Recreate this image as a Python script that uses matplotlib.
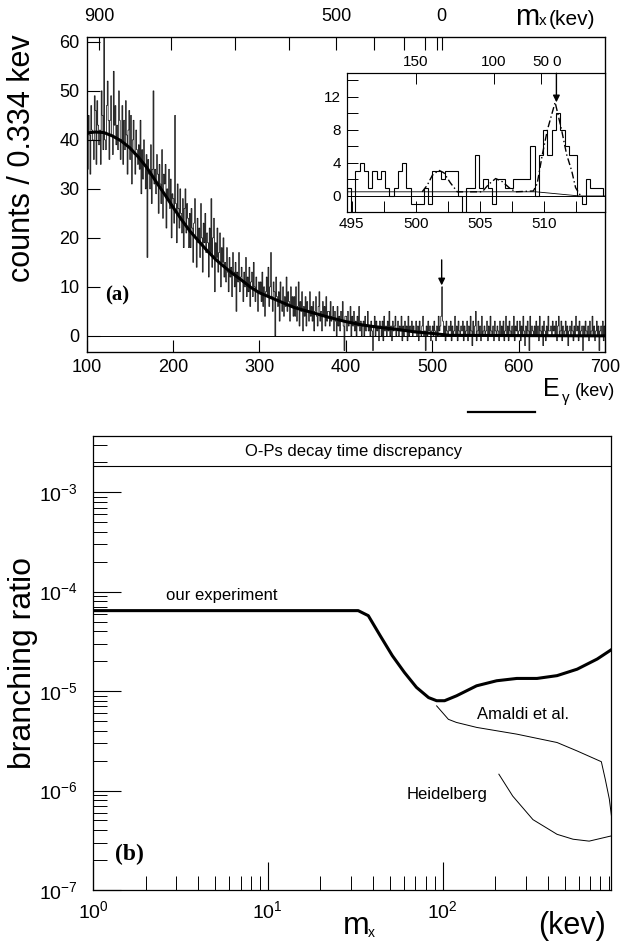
import numpy as np
import matplotlib
matplotlib.use('Agg')
import matplotlib.pyplot as plt
from matplotlib.ticker import LogLocator, NullFormatter, FixedLocator
from matplotlib.lines import Line2D

plt.rcParams['font.family'] = ['Liberation Sans', 'DejaVu Sans']
plt.rcParams['mathtext.fontset'] = 'custom'
plt.rcParams['mathtext.rm'] = 'Liberation Sans'
plt.rcParams['mathtext.it'] = 'Liberation Sans:italic'
plt.rcParams['mathtext.bf'] = 'Liberation Sans:bold'
plt.rcParams['axes.unicode_minus'] = False

# ---------------- data: panel (a) ----------------
spec_start = 100.0   # keV, left edge of first bin (bins shown 1 keV wide)
spec_bin = 1.0
spectrum_counts = [
    38, 34, 45, 41, 33, 47, 42, 40, 36, 49, 46, 35, 48, 43, 39, 42, 35, 50, 45, 38,
    61, 40, 38, 47, 52, 44, 36, 44, 49, 41, 37, 54, 43, 47, 39, 43, 38, 50, 44, 36,
    40, 47, 35, 44, 38, 48, 41, 33, 42, 46, 36, 45, 31, 40, 44, 37, 33, 42, 38, 35,
    39, 34, 44, 29, 38, 32, 40, 35, 30, 37, 16, 36, 33, 30, 39, 27, 34, 50, 31, 34,
    29, 37, 33, 25, 35, 31, 27, 38, 24, 33, 31, 35, 22, 30, 28, 34, 26, 32, 20, 29,
    28, 23, 45, 27, 19, 31, 26, 22, 30, 25, 21, 28, 18, 26, 30, 21, 27, 24, 18, 25,
    18, 26, 22, 15, 23, 28, 20, 14, 24, 19, 22, 16, 27, 20, 13, 23, 19, 25, 17, 21,
    19, 12, 22, 17, 28, 14, 20, 24, 9, 19, 16, 22, 13, 17, 21, 10, 18, 15, 20, 12,
    15, 11, 18, 13, 9, 16, 12, 14, 8, 17, 13, 10, 15, 5, 13, 11, 17, 9, 12, 14,
    11, 7, 13, 10, 16, 8, 12, 9, 14, 6, 11, 13, 8, 15, 10, 7, 12, 9, 5, 11,
    9, 11, 7, 13, 6, 10, 4, 9, 12, 8, 14, 6, 10, 17, 8, 5, 11, 9, 0, 12,
    8, 6, 9, 3, 11, 7, 5, 10, 4, 8, 6, 12, 5, 9, 7, 3, 10, 6, 8, 4,
    8, 4, 10, 3, 6, 11, 2, 7, 5, 9, 1, 6, 4, 8, 2, 7, 5, 3, 9, 4,
    6, 3, 7, 1, 5, 8, 4, 2, 6, 9, 3, 5, 1, 7, 4, 6, 2, 8, 3, 5,
    5, 2, 7, 3, 4, 6, 1, 5, 3, 0, 6, 2, 4, 1, 5, 3, 7, 2, -3, 4,
    4, 1, 5, 2, 3, 6, 0, 4, 2, 5, 1, 3, 0, 4, 2, 6, 1, 3, 0, 2,
    3, 0, 4, 1, 2, 5, 1, 2, 0, 3, 1, -3, 2, 4, 0, 3, 1, 2, -1, 3,
    2, 0, 3, -1, 4, 1, 2, 0, 3, 1, 5, 0, 2, -1, 3, 1, 2, 4, 0, 1,
    3, 0, 2, 1, 4, -1, 2, 0, 3, 1, 2, -1, 4, 0, 2, 1, 3, 0, 2, 1,
    1, 3, 0, 2, -1, 3, 1, 0, 2, 4, 0, 1, -3, 2, 0, 3, 1, 2, -1, 1,
    2, 0, 3, 1, -1, 2, 0, 4, 1, 2, 4, 10, 3, 0, 2, -1, 3, 1, 0, 2,
    1, 3, -1, 2, 0, 1, 4, 0, 2, -1, 3, 1, 0, 2, 1, 3, -1, 2, 0, 1,
    3, -1, 2, 0, 4, 1, -2, 3, 0, 2, 5, -1, 1, 3, 0, 2, -1, 4, 0, 1,
    2, 0, 1, 3, -1, 2, 0, 4, 1, 0, 2, -1, 3, 1, 0, 2, 1, -1, 3, 0,
    2, 0, 3, -1, 1, 4, 0, 2, -1, 3, 1, 0, 2, 0, 4, -1, 2, 1, 3, 0,
    1, 3, -1, 2, 0, 4, 1, -2, 2, 0, 3, 1, -3, 4, 0, 2, 1, 0, 2, 0,
    3, 0, 2, -1, 4, 1, 0, 2, -2, 3, 1, -1, 2, 0, 4, 1, 1, 2, 0, 3,
    1, 2, 0, 3, -1, 2, 4, 0, 1, 3, -1, 2, 0, 1, 3, 0, 2, -2, 1, 2,
    0, 3, 1, -1, 2, 0, 4, 1, 2, -1, 3, 0, 1, 2, -3, 2, 0, 3, 1, 0,
    2, -1, 3, 0, 1, 4, 0, 2, -1, 1, 3, 0, 2, -3, 1, 2, 0, 3, -1, 2,
]
fit_E = [100, 110, 120, 130, 140, 150, 160, 170, 180, 190, 200, 210, 220, 230,
         240, 250, 260, 270, 280, 290, 300, 320, 340, 360, 380, 400, 420, 440,
         460, 480, 500, 510, 520, 600, 700]
fit_counts = [41.4, 41.6, 41.5, 40.8, 39.8, 38.4, 36.5, 34.3, 31.6, 29.0, 26.3,
              23.7, 21.3, 19.3, 17.3, 15.5, 14.0, 12.6, 11.3, 9.9, 8.8, 7.3,
              5.8, 4.8, 3.8, 2.9, 2.2, 1.7, 1.3, 0.8, 0.5, 0.3, 0.1, 0.05, 0.0]

mx_ticks_main = [900, 800, 700, 600, 500, 400, 300, 200, 100, 0]
mx_labels_main = ['900', '', '', '', '500', '', '', '', '', '0']

# inset
inset_start = 494.6
inset_bin = 0.334
inset_counts = [1, -2, 3, 4, 3, 1, 3, 2,
                3, 1, 0, 1, 3, 4, 1, -1, -1, -1, 1, -1, 3, 3, 2, 3, 3, 3, 0, -2,
                1, 1, 5, 1, 2, 1, -1, 2, 2, 1, 1, 2, 2, 2, 2, 6, 0, 5, 8, 5, 8,
                10, 8, 6, 5, 5, 0, -1, 2, 1, 1, 1]
inset_bg_E = [494.6, 509.4, 512.8, 514.8]
inset_bg = [0.5, 0.5, 0.0, 0.0]
peak_E = [500.5, 500.9, 501.3, 501.8, 502.2, 502.7, 503.25, 505.2, 505.7, 506.25,
          506.8, 507.3, 507.8, 509.2, 509.5, 509.9, 510.3, 510.9, 511.4, 511.8,
          512.2, 512.5, 512.9]
peak_C = [0.5, 1.3, 2.5, 3.1, 2.8, 1.6, 0.5, 0.5, 1.4, 2.1, 1.7, 1.0, 0.5, 0.6,
          1.5, 5.0, 8.0, 11.3, 8.0, 5.0, 3.0, 1.0, 0.0]
mx_ticks_inset = [150, 100, 50, 0]
mx_labels_inset = ['150', '100', '50', '0']

# ---------------- data: panel (b) ----------------
our_m = [1, 32.9, 37.6, 44.0, 51.6, 60.5, 70.9, 83.2, 92.5, 102.7, 120.3, 156.6,
         204, 266, 347, 452, 589, 767, 925]
our_br = [6.44e-5, 6.44e-5, 5.73e-5, 3.60e-5, 2.27e-5, 1.54e-5, 1.09e-5, 8.6e-6,
          8.0e-6, 8.0e-6, 8.97e-6, 1.13e-5, 1.27e-5, 1.34e-5, 1.34e-5, 1.43e-5,
          1.66e-5, 2.10e-5, 2.61e-5]
amaldi_m = [92.5, 108, 120, 157, 266, 452, 589, 810, 853, 900, 925]
amaldi_br = [7.1e-6, 5.2e-6, 4.84e-6, 4.31e-6, 3.69e-6, 3.04e-6, 2.5e-6, 1.95e-6,
             1.3e-6, 8.2e-7, 5.6e-7]
heid_m = [210, 252, 329, 452, 558, 690, 925]
heid_br = [1.46e-6, 8.8e-7, 5.1e-7, 3.63e-7, 3.24e-7, 3.1e-7, 3.5e-7]
ops_level = 1.83e-3

W, H = 623, 946


def fb(l, t, r, b):
    return [l / W, 1 - b / H, (r - l) / W, (b - t) / H]


def fp(x, y):
    return x / W, 1 - y / H


def mx_to_E(m):
    m = np.asarray(m, dtype=float)
    return 511.0 - m ** 2 / 2044.0


fig = plt.figure(figsize=(W / 100, H / 100), dpi=100)

# ---------------- panel (a) ----------------
ax1 = fig.add_axes(fb(86.5, 37, 605, 352))
edges = spec_start + spec_bin * np.arange(len(spectrum_counts) + 1)
ax1.stairs(spectrum_counts, edges, color='black', lw=0.5)
ax1.axhline(0, color='black', lw=0.7)
ax1.plot(fit_E, fit_counts, color='black', lw=2.2)
ax1.set_xlim(100, 700)
ax1.set_ylim(-3.3, 61)
ax1.set_xticks(range(100, 701, 100))
ax1.set_yticks(range(0, 61, 10))
ax1.tick_params(direction='in', length=9, width=0.8, labelsize=13, pad=5,
                top=False, right=False)
for s in ax1.spines.values():
    s.set_linewidth(0.9)
fig.text(*fp(22, 158), 'counts / 0.334 kev', fontsize=22, rotation=90,
         ha='center', va='center')
ax1.annotate('', xy=(511, 10.3), xytext=(511, 15.5),
             arrowprops=dict(arrowstyle='-|>', color='black', lw=1.0,
                             mutation_scale=10, shrinkA=0, shrinkB=0))
ax1.text(135, 8.2, '(a)', family=['Liberation Serif'], fontsize=15,
         fontweight='bold', ha='center', va='center')

ax1t = ax1.twiny()
ax1t.set_xlim(ax1.get_xlim())
ax1t.set_xticks(mx_to_E(mx_ticks_main))
ax1t.set_xticklabels(mx_labels_main)
ax1t.tick_params(direction='in', length=9, width=0.8, labelsize=13, pad=9)

fig.text(*fp(515, 25), 'm', fontsize=21, ha='left', va='baseline')
fig.text(*fp(539, 25), 'x', fontsize=11, ha='left', va='baseline')
fig.text(*fp(549, 25), '(kev)', fontsize=15, ha='left', va='baseline')

fig.text(*fp(543, 396), 'E', fontsize=18, ha='left', va='baseline')
fig.text(*fp(562, 402), 'γ', fontsize=11, ha='left', va='baseline')
fig.text(*fp(575, 396), '(kev)', fontsize=13, ha='left', va='baseline')

# ---------------- inset ----------------
axi = fig.add_axes(fb(346.7, 73.3, 605, 211.7))
axi.set_facecolor('white')
iedges = inset_start + inset_bin * np.arange(len(inset_counts) + 1)
axi.stairs(inset_counts, iedges, color='black', lw=0.8)
axi.axhline(0, color='black', lw=0.7)
axi.plot(inset_bg_E, inset_bg, color='black', lw=0.6)
axi.plot(peak_E, peak_C, color='black', lw=1.0, linestyle=(0, (5, 2, 1, 2)))
axi.set_xlim(494.6, 514.8)
axi.set_ylim(-1.9, 14.8)
axi.set_xticks([495, 500, 505, 510])
axi.xaxis.set_minor_locator(FixedLocator([497.5, 502.5, 507.5, 512.5]))
axi.set_yticks([0, 4, 8, 12])
axi.yaxis.set_minor_locator(FixedLocator([2, 6, 10, 14]))
axi.tick_params(which='both', direction='in', length=8, width=0.7, labelsize=11,
                pad=4, top=False, right=False)
for s in axi.spines.values():
    s.set_linewidth(0.8)
axi.annotate('', xy=(511.0, 11.3), xytext=(511.0, 14.8),
             arrowprops=dict(arrowstyle='-|>', color='black', lw=1.0,
                             mutation_scale=10, shrinkA=0, shrinkB=0))
axit = axi.twiny()
axit.set_xlim(axi.get_xlim())
axit.set_xticks(mx_to_E(mx_ticks_inset))
axit.set_xticklabels(mx_labels_inset)
axit.tick_params(direction='in', length=8, width=0.7, labelsize=11, pad=3)

# stray short line between panels
fig.add_artist(Line2D([468 / W, 535 / W], [1 - 412 / H, 1 - 412 / H],
                      color='black', lw=1.6))

# ---------------- panel (b) ----------------
ax2 = fig.add_axes(fb(93, 436, 611, 890))
ax2.set_xscale('log')
ax2.set_yscale('log')
ax2.plot(our_m, our_br, color='black', lw=2.2)
ax2.plot(amaldi_m, amaldi_br, color='black', lw=0.7)
ax2.plot(heid_m, heid_br, color='black', lw=0.7)
ax2.axhline(ops_level, color='black', lw=0.8)
ax2.set_xlim(1, 920)
ax2.set_ylim(1e-7, 3.67e-3)
ax2.xaxis.set_major_locator(LogLocator(base=10, numticks=10))
ax2.xaxis.set_minor_locator(LogLocator(base=10, subs=np.arange(2, 10), numticks=20))
ax2.xaxis.set_minor_formatter(NullFormatter())
ax2.yaxis.set_major_locator(LogLocator(base=10, numticks=10))
ax2.yaxis.set_minor_locator(LogLocator(base=10, subs=np.arange(2, 10), numticks=20))
ax2.yaxis.set_minor_formatter(NullFormatter())
ax2.tick_params(which='major', direction='in', length=20, width=0.8,
                labelsize=14, top=False, right=False)
ax2.tick_params(axis='y', which='major', pad=11)
ax2.tick_params(axis='x', which='major', pad=7)
ax2.tick_params(which='minor', direction='in', length=10, width=0.7,
                top=False, right=False)
for s in ax2.spines.values():
    s.set_linewidth(0.9)
fig.text(*fp(23, 663), 'branching ratio', fontsize=23, rotation=90,
         ha='center', va='center')

ax2.text(31, 2.55e-3, 'O-Ps decay time discrepancy', fontsize=12,
         ha='center', va='center')
ax2.text(2.6, 9.1e-5, 'our experiment', fontsize=12, ha='left', va='center')
ax2.text(157, 5.75e-6, 'Amaldi et al.', fontsize=12, ha='left', va='center')
ax2.text(62, 9.2e-7, 'Heidelberg', fontsize=12, ha='left', va='center')
ax2.text(1.34, 2.3e-7, '(b)', family=['Liberation Serif'], fontsize=17,
         fontweight='bold', ha='left', va='center')

fig.text(*fp(343, 934), 'm', fontsize=23, ha='left', va='baseline')
fig.text(*fp(368, 937), 'x', fontsize=10, ha='left', va='baseline')
fig.text(*fp(538, 934), '(kev)', fontsize=22, ha='left', va='baseline')

fig.savefig('out.png', dpi=100)
